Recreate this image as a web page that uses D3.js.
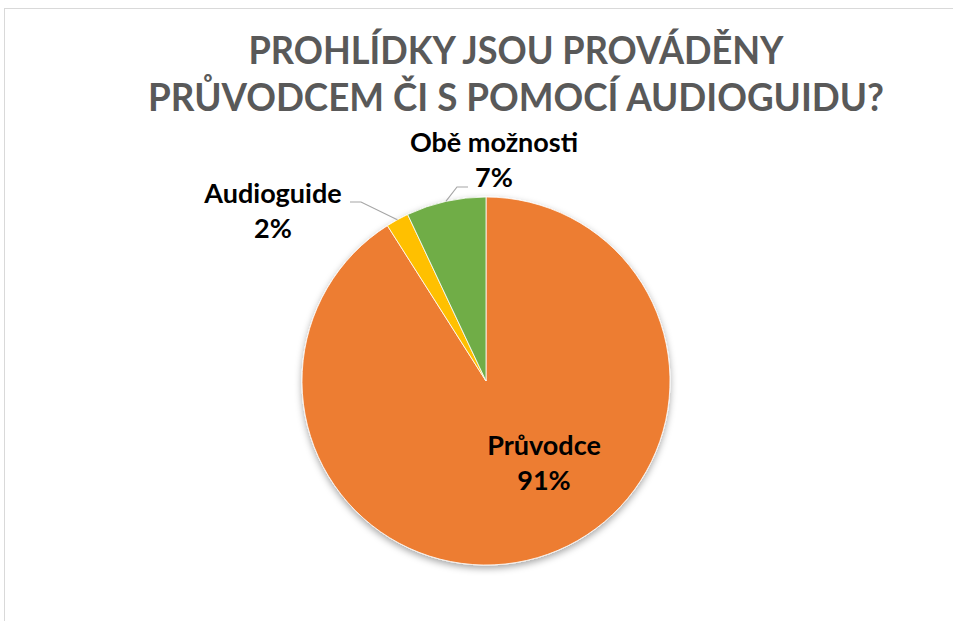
<!DOCTYPE html>
<html>
<head>
<meta charset="utf-8">
<script src="https://cdn.jsdelivr.net/npm/d3@7"></script>
<style>
  body { margin: 0; background: #fff; }
  svg { display: block; }
  text { font-family: Lato, Carlito, Calibri, "Open Sans", sans-serif; font-weight: bold; }
</style>
</head>
<body>
<svg id="chart"></svg>
<script>
// chart values
var categories = ["Průvodce", "Audioguide", "Obě možnosti"];
var values = [91, 2, 7];
var percentLabels = ["91%", "2%", "7%"];
var colors = ["#ED7D31", "#FFC000", "#70AD47"];
var titleLines = ["PROHLÍDKY JSOU PROVÁDĚNY", "PRŮVODCEM ČI S POMOCÍ AUDIOGUIDU?"];

var screen = {width: 953, height: 621};
var center = {x: 486, y: 381};
var radius = 184;

var svg = d3.select("#chart")
    .attr("width", screen.width)
    .attr("height", screen.height);

// chart area border (only top/left visible)
svg.append("rect")
    .attr("x", 4.5).attr("y", 8.5)
    .attr("width", 1000).attr("height", 700)
    .attr("fill", "none")
    .attr("stroke", "#d9d9d9")
    .attr("stroke-width", 1);

// drop shadow
var defs = svg.append("defs");
defs.append("filter")
    .attr("id", "shadow")
    .attr("x", "-20%").attr("y", "-20%")
    .attr("width", "140%").attr("height", "140%")
    .append("feDropShadow")
    .attr("dx", 0).attr("dy", 3)
    .attr("stdDeviation", 3.5)
    .attr("flood-color", "#000")
    .attr("flood-opacity", 0.35);

// title
svg.append("g")
    .selectAll("text")
    .data(titleLines)
    .enter()
    .append("text")
    .text(function(d){ return d; })
    .attr("x", 516)
    .attr("y", function(d, i){ return 64 + i * 47; })
    .attr("text-anchor", "middle")
    .attr("fill", "#595959")
    .style("font-size", "39px")
    .attr("textLength", function(d, i){ return i == 0 ? 535 : 736; })
    .attr("lengthAdjust", "spacingAndGlyphs");

var pie = d3.pie().sort(null).value(function(d){ return d; });
var arcs = pie(values);
var arc = d3.arc().innerRadius(0).outerRadius(radius);
var edgeArc = d3.arc().innerRadius(radius).outerRadius(radius);

var target = svg.append("g")
    .attr("transform", "translate(" + center.x + "," + center.y + ")");

target.append("g")
    .attr("filter", "url(#shadow)")
    .selectAll("path")
    .data(arcs)
    .enter()
    .append("path")
    .attr("d", arc)
    .attr("fill", function(d, i){ return colors[i]; })
    .attr("stroke", "#fff")
    .attr("stroke-width", 0.8);

// label placement relative to pie center (dx, dy of label center), leader elbow
var labelPos = [
    {dx: 58, dy: 83, leader: false},
    {dx: -213, dy: -169, leader: true, elbow: -125, end: -136, ly: -179},
    {dx: 8, dy: -220, leader: true, elbow: -29, end: -18, ly: -194}
];

// leader lines
arcs.forEach(function(a, i){
    var p = labelPos[i];
    if (!p.leader) return;
    var c = edgeArc.centroid(a);
    target.append("polyline")
        .attr("points", [c, [p.elbow, p.ly], [p.end, p.ly]].map(function(q){ return q.join(","); }).join(" "))
        .attr("fill", "none")
        .attr("stroke", "#a6a6a6")
        .attr("stroke-width", 1.2);
});

var labels = target.append("g")
    .selectAll("text")
    .data(arcs)
    .enter()
    .append("text")
    .attr("text-anchor", "middle")
    .attr("fill", "#000")
    .style("font-size", "27px")
    .attr("transform", function(d, i){
        return "translate(" + labelPos[i].dx + "," + labelPos[i].dy + ")";
    });

labels.append("tspan")
    .attr("x", 0).attr("y", -9)
    .text(function(d, i){ return categories[i]; });
labels.append("tspan")
    .attr("x", 0).attr("y", 26)
    .text(function(d, i){ return percentLabels[i]; });
</script>
</body>
</html>
